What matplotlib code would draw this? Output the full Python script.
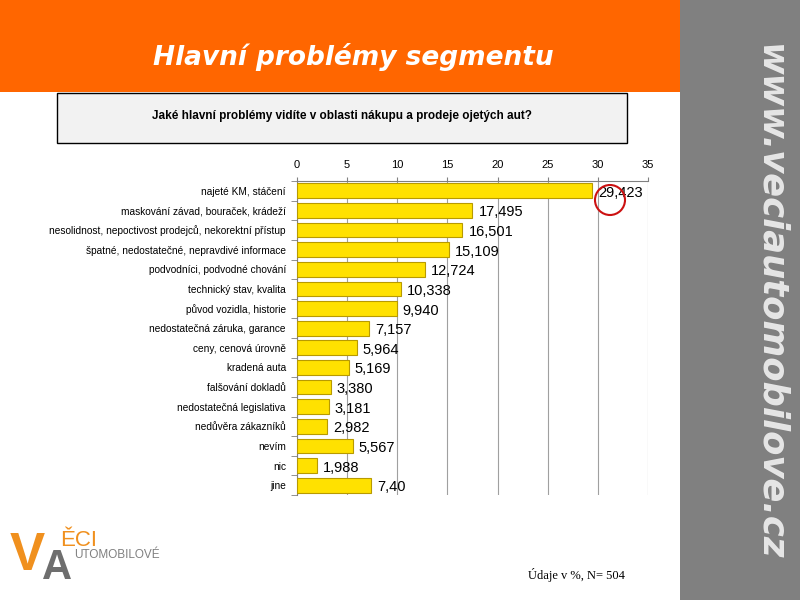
import numpy as np
import matplotlib.pyplot as plt
from matplotlib.patches import Rectangle, Ellipse

categories = [
    "najeté KM, stáčení",
    "maskování závad, bouraček, krádeží",
    "nesolidnost, nepoctivost prodejců, nekorektní přístup",
    "špatné, nedostatečné, nepravdivé informace",
    "podvodníci, podvodné chování",
    "technický stav, kvalita",
    "původ vozidla, historie",
    "nedostatečná záruka, garance",
    "ceny, cenová úrovně",
    "kradená auta",
    "falšování dokladů",
    "nedostatečná legislativa",
    "nedůvěra zákazníků",
    "nevím",
    "nic",
    "jine",
]
values = [29.423, 17.495, 16.501, 15.109, 12.724, 10.338, 9.940, 7.157,
          5.964, 5.169, 3.380, 3.181, 2.982, 5.567, 1.988, 7.40]
value_labels = ["29,423", "17,495", "16,501", "15,109", "12,724", "10,338",
                "9,940", "7,157", "5,964", "5,169", "3,380", "3,181",
                "2,982", "5,567", "1,988", "7,40"]
xticks = [0, 5, 10, 15, 20, 25, 30, 35]

fig = plt.figure(figsize=(8, 6), dpi=100)
fig.patch.set_facecolor("white")

# orange header and grey side bar
fig.patches.append(Rectangle((0, 1 - 92/600), 680/800, 92/600, transform=fig.transFigure,
                             facecolor="#FF6600", edgecolor="none", zorder=0))
fig.patches.append(Rectangle((680/800, 0), 120/800, 1, transform=fig.transFigure,
                             facecolor="#808080", edgecolor="none", zorder=0))
fig.text(353/800, 1 - 57/600, "Hlavní problémy segmentu", color="white", fontsize=19,
         fontweight="bold", fontstyle="italic", ha="center", va="center",
         family="DejaVu Sans")
fig.text(770/800, 1 - 302/600, "www.veciautomobilove.cz", color="#E6E6E6", fontsize=25.5,
         fontweight="bold", fontstyle="italic", ha="center", va="center",
         rotation=-90, family="DejaVu Sans")

# question box
fig.patches.append(Rectangle((57/800, 1 - 143/600), 570/800, 50/600, transform=fig.transFigure,
                             facecolor="#F2F2F2", edgecolor="black", linewidth=1, zorder=1))
fig.text(342/800, 1 - 116/600, "Jaké hlavní problémy vidíte v oblasti nákupu a prodeje ojetých aut?",
         fontsize=8.5, fontweight="bold", ha="center", va="center", family="Liberation Sans")

# chart
ax = fig.add_axes([297/800, 1 - 495/600, 351/800, 314/600])
y = np.arange(len(categories))
ax.barh(y, values, height=0.75, color="#FFE100", edgecolor="#B89A00", linewidth=0.8, zorder=3)
for yi, v, lab in zip(y, values, value_labels):
    ax.text(v + 0.6, yi + 0.1, lab, va="center", ha="left", fontsize=10.5,
            family="Liberation Sans", color="black", zorder=4)
ax.set_xlim(0, 35)
ax.set_ylim(len(categories) - 0.5, -0.5)
ax.set_xticks(xticks)
ax.xaxis.tick_top()
ax.tick_params(axis="x", labelsize=8, length=3, color="#808080", pad=5)
ax.set_yticks(y)
ax.set_yticklabels(categories, fontsize=7.3, family="Liberation Sans")
ax.set_yticks(np.arange(len(categories) + 1) - 0.5, minor=True)
ax.tick_params(axis="y", which="major", length=0, pad=8)
ax.tick_params(axis="y", which="minor", length=4, color="#808080")
ax.grid(axis="x", color="#A0A0A0", linewidth=0.8, zorder=0)
for s in ["right", "bottom"]:
    ax.spines[s].set_visible(False)
ax.spines["left"].set_color("#808080")
ax.spines["top"].set_color("#808080")
for lab in ax.get_xticklabels() + ax.get_yticklabels():
    lab.set_family("Liberation Sans")

# red circle annotation
fig.patches.append(Ellipse((610/800, 1 - 200/600), 30/800, 30/600, transform=fig.transFigure,
                           facecolor="none", edgecolor="#CC1111", linewidth=1.5, zorder=5))

# logo and note
fig.text(10/800, 1 - 556/600, "V", color="#F0901E", fontsize=38, fontweight="bold",
         family="Liberation Sans", ha="left", va="center")
fig.text(60/800, 1 - 540/600, "ĚCI", color="#F0901E", fontsize=16, family="Liberation Sans",
         ha="left", va="center")
fig.text(42/800, 1 - 568/600, "A", color="#6E6E6E", fontsize=30, fontweight="bold",
         family="Liberation Sans", ha="left", va="center")
fig.text(74/800, 1 - 555/600, "UTOMOBILOVÉ", color="#808080", fontsize=8.5, family="Liberation Sans",
         ha="left", va="center")
fig.text(625/800, 1 - 575/600, "Údaje v %, N= 504", fontsize=9, family="Liberation Serif",
         ha="right", va="center")

fig.savefig("out.png", dpi=100)
